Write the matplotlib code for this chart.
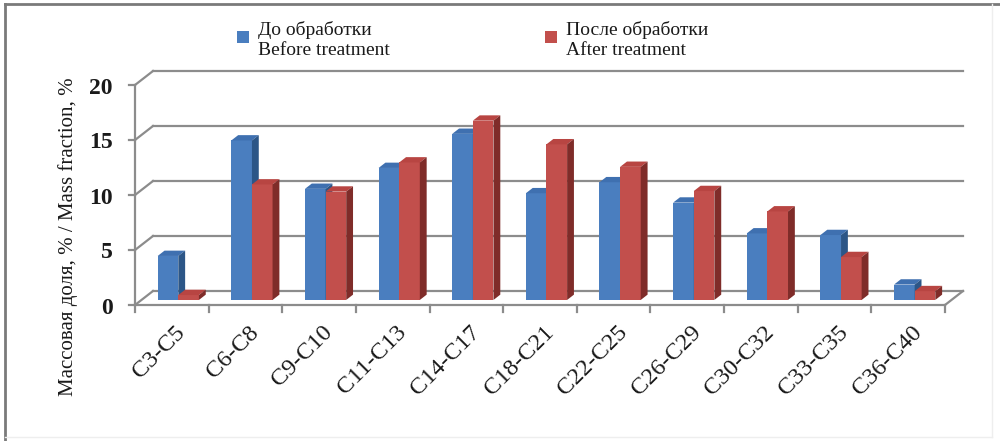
import matplotlib
matplotlib.use("Agg")
import matplotlib.pyplot as plt
from matplotlib.patches import Polygon, Rectangle
from matplotlib.lines import Line2D

plt.rcParams['font.family'] = ['Liberation Serif', 'DejaVu Serif']

# Hydrocarbon fractions and their mass fractions, %
categories = ["C3-C5", "C6-C8", "C9-C10", "C11-C13", "C14-C17", "C18-C21",
              "C22-C25", "C26-C29", "C30-C32", "C33-C35", "C36-C40"]
before = [4.0, 14.5, 10.1, 12.0, 15.1, 9.7, 10.7, 8.85, 6.05, 5.9, 1.4]
after = [0.45, 10.5, 9.85, 12.5, 16.3, 14.15, 12.1, 9.9, 8.05, 3.9, 0.8]
y_ticks = [0, 5, 10, 15, 20]

series_labels = ["До обработки\nBefore treatment", "После обработки\nAfter treatment"]
y_label = "Массовая доля, % / Mass fraction, %"

W, H = 1000, 441
fig = plt.figure(figsize=(W / 100, H / 100), dpi=100)
fig.patch.set_facecolor("white")

# front plane of the pseudo-3D box, in pixels
left_px, right_px, bottom_px, top_px = 135, 945, 305, 85
ax = fig.add_axes([left_px / W, (H - bottom_px) / H,
                   (right_px - left_px) / W, (bottom_px - top_px) / H])
n = len(categories)
ax.set_xlim(-0.5, n - 0.5)
ax.set_ylim(0, 20)
ax.axis("off")

ux = n / (right_px - left_px)        # data units per pixel, x
uy = 20 / (bottom_px - top_px)       # data units per pixel, y
DEPTH = (18 * ux, 14 * uy)           # full depth of the box


def P(x, y, d):
    return (x + d * DEPTH[0], y + d * DEPTH[1])


grid_c = "#8c8c8c"
glw = 1.6
x0, x1 = -0.5, n - 0.5
text_c = "#1a1a1a"

# back wall gridlines and left wall diagonals
for v in y_ticks:
    ax.add_line(Line2D(*zip(P(x0, v, 1), P(x1, v, 1)), color=grid_c, lw=glw,
                       clip_on=False, zorder=1))
    ax.add_line(Line2D(*zip(P(x0, v, 0), P(x0, v, 1)), color=grid_c, lw=glw,
                       clip_on=False, zorder=1))
    # tick marks on the value axis
    ax.add_line(Line2D([x0 - 6 * ux, x0], [v, v], color=grid_c, lw=glw,
                       clip_on=False, zorder=1))
    ax.text(x0 - 22 * ux, v - 3 * uy, str(v), ha="right", va="center", fontsize=17,
            fontweight="bold", color=text_c)

# floor: right diagonal, front axis line and category ticks
ax.add_line(Line2D(*zip(P(x1, 0, 0), P(x1, 0, 1)), color=grid_c, lw=glw,
                   clip_on=False, zorder=1))
ax.add_line(Line2D([x0, x0], [0, 20], color=grid_c, lw=glw, clip_on=False, zorder=1))
ax.add_line(Line2D([x0, x1], [0, 0], color=grid_c, lw=glw, clip_on=False, zorder=1))
for k in range(n + 1):
    xb = -0.5 + k
    ax.add_line(Line2D([xb, xb], [0, -7 * uy], color=grid_c, lw=glw,
                       clip_on=False, zorder=1))

# bars
bw = 0.28
d0, d1 = 0.36, 0.74
colors = [
    ("#4a7ebf", "#3f70b0", "#2c5687"),   # front, top, side
    ("#c24f4c", "#b84542", "#7f2c29"),
]


def draw_bar(xl, v, cols, z):
    xr = xl + bw
    front, top, side = cols
    ax.add_patch(Polygon([P(xl, 0, d0), P(xr, 0, d0), P(xr, v, d0), P(xl, v, d0)],
                         closed=True, fc=front, ec="none", clip_on=False, zorder=z))
    ax.add_patch(Polygon([P(xl, v, d0), P(xr, v, d0), P(xr, v, d1), P(xl, v, d1)],
                         closed=True, fc=top, ec="none", clip_on=False, zorder=z))
    ax.add_patch(Polygon([P(xr, 0, d0), P(xr, 0, d1), P(xr, v, d1), P(xr, v, d0)],
                         closed=True, fc=side, ec="none", clip_on=False, zorder=z))


z = 2
for i in range(n):
    draw_bar(i - bw, before[i], colors[0], z)
    z += 1
    draw_bar(i, after[i], colors[1], z)
    z += 1

# category labels
for i, lab in enumerate(categories):
    ax.text(i + 3 * ux, -17 * uy, lab, rotation=45, rotation_mode="anchor",
            ha="right", va="top", fontsize=17.5, color=text_c)

# axis title
fig.text(68 / W, 1 - 237 / H, y_label, rotation=90, ha="center", va="center",
         fontsize=15, color=text_c)

# legend
for (lx, lab, cols) in [(243, series_labels[0], colors[0]),
                        (551, series_labels[1], colors[1])]:
    fig.patches.append(Rectangle(((lx - 6) / W, 1 - 43 / H), 12 / W, 12 / H,
                                 transform=fig.transFigure, fc=cols[0], ec="none"))
    fig.text((lx + 15) / W, 1 - 21 / H, lab, ha="left", va="top", fontsize=14,
             linespacing=1.25, color=text_c)

# outer frame
fig.add_artist(Line2D([5 / W, 1], [1 - 4 / H, 1 - 4 / H], transform=fig.transFigure,
                      color="#7a7a7a", lw=2))
fig.add_artist(Line2D([5 / W, 5 / W], [0, 1 - 4 / H], transform=fig.transFigure,
                      color="#7a7a7a", lw=2))
fig.add_artist(Line2D([992 / W, 992 / W], [4 / H, 1 - 4 / H], transform=fig.transFigure,
                      color="#eeeeee", lw=1))
fig.add_artist(Line2D([5 / W, 992 / W], [4 / H, 4 / H], transform=fig.transFigure,
                      color="#eeeeee", lw=1))

fig.savefig("out.png", dpi=100)
